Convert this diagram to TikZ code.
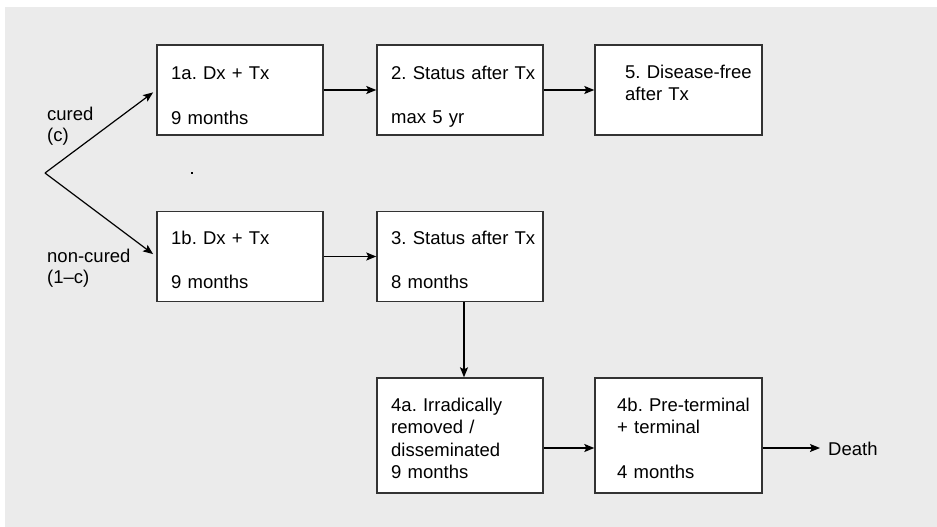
\documentclass[tikz,border=0pt]{standalone}
\usepackage{fontspec}
\setmainfont{Liberation Sans}
\usetikzlibrary{arrows.meta}
\definecolor{panel}{HTML}{EBEBEB}
\definecolor{edge}{HTML}{333333}
\frenchspacing
\begin{document}
\begin{tikzpicture}[x=1pt,y=-1pt,
  stagebox/.style={draw=edge,line width=1.4pt,fill=white,rectangle,inner sep=0pt},
  txt/.style={anchor=base west,inner sep=0pt,text width=160pt,align=left,
    font=\fontsize{18.5}{22.5}\selectfont},
  lbl/.style={anchor=base west,inner sep=0pt,text width=100pt,align=left,
    font=\fontsize{18.5}{21.5}\selectfont},
  arr/.style={line width=1.2pt,-{Stealth[length=10pt,width=8pt,inset=2pt]}}]
% canvas and grey panel
\useasboundingbox (0,0) rectangle (937,527);
\fill[white] (0,0) rectangle (937,527);
\fill[panel] (5,7) rectangle (937,527);

% stage boxes
\node[stagebox,minimum width=166pt,minimum height=90pt] (n1a) at (240,90) {};
\node[stagebox,minimum width=166pt,minimum height=90pt] (n2) at (460,90) {};
\node[stagebox,minimum width=167pt,minimum height=90pt] (n5) at (678.5,90) {};
\node[stagebox,minimum width=166pt,minimum height=90pt] (n1b) at (240,256.5) {};
\node[stagebox,minimum width=166pt,minimum height=90pt] (n3) at (460,256.5) {};
\node[stagebox,minimum width=166pt,minimum height=115pt] (n4a) at (460,435.5) {};
\node[stagebox,minimum width=167pt,minimum height=115pt] (n4b) at (678.5,435.5) {};

% box texts
\node[txt] (t1a) at (171,80) {1a. Dx + Tx\\[22pt]9 months};
\node[txt] (t2) at (391,79) {2. Status after Tx\\[22pt]max 5 yr};
\node[txt] (t5) at (625,78) {5. Disease-free\\after Tx};
\node[txt] (t1b) at (171,244) {1b. Dx + Tx\\[22pt]9 months};
\node[txt] (t3) at (391,244) {3. Status after Tx\\[22pt]8 months};
\node[txt] (t4a) at (391,411) {4a. Irradically\\removed /\\disseminated\\9 months};
\node[txt] (t4b) at (617,411) {4b. Pre-terminal\\+ terminal\\[22.5pt]4 months};

% branch labels
\node[lbl] (lc) at (47,120) {cured\\(c)};
\node[lbl] (lnc) at (47,262) {non-cured\\(1–c)};
\node[lbl] (death) at (828,455) {Death};

% branching point and small mark
\coordinate (split) at (45,173);
\fill (191,172) rectangle (193,174);

% connectors
\draw[arr,shorten >=4pt] (split) -- (n1a.west);
\draw[arr,shorten >=4pt] (split) -- (n1b.west);
\draw[arr] (n1a.east) -- (n2.west);
\draw[arr] (n2.east) -- (n5.west);
\draw[arr] (n1b.east) -- (n3.west);
\draw[arr] ([xshift=4pt]n3.south) -- ([xshift=4pt]n4a.north);
\draw[arr] ([yshift=-12.5pt]n4a.east) -- ([yshift=-12.5pt]n4b.west);
\draw[arr] ([yshift=-12.5pt]n4b.east) -- (820,448);
\end{tikzpicture}
\end{document}
